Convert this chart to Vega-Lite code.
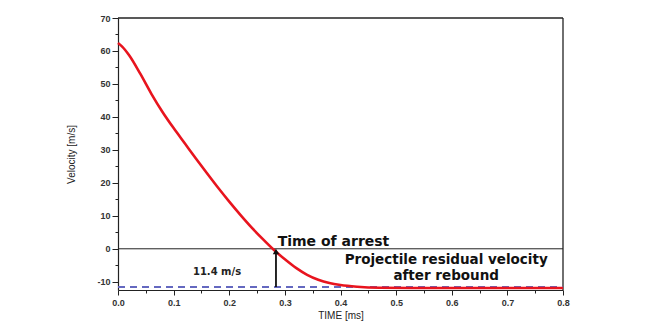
{
  "$schema": "https://vega.github.io/schema/vega-lite/v6.json",
  "width": 445,
  "height": 272,
  "autosize": {"type": "none"},
  "padding": {"left": 118, "top": 18, "right": 94, "bottom": 35},
  "background": "white",
  "config": {
    "font": "Liberation Sans",
    "view": {"stroke": null},
    "axis": {"grid": false, "domainColor": "#222", "tickColor": "#222", "labelColor": "#333", "labelFontSize": 9, "labelFontWeight": "bold", "titleFontSize": 10, "titleFontWeight": "normal", "titleColor": "#222", "domainWidth": 1.2, "labelOverlap": false, "labelBound": false, "labelFlush": false}
  },
  "datasets": {
    "curve": [
      {"t": 0, "v": 62.4}, {"t": 0.007, "v": 61.4}, {"t": 0.02, "v": 58.7}, {"t": 0.04, "v": 53.1},
      {"t": 0.06, "v": 47.0}, {"t": 0.08, "v": 41.5}, {"t": 0.1, "v": 36.6}, {"t": 0.12, "v": 32.0},
      {"t": 0.14, "v": 27.4}, {"t": 0.16, "v": 22.9}, {"t": 0.18, "v": 18.5}, {"t": 0.2, "v": 14.3},
      {"t": 0.22, "v": 10.3}, {"t": 0.24, "v": 6.5}, {"t": 0.26, "v": 3.0}, {"t": 0.28, "v": -0.3},
      {"t": 0.3, "v": -3.2}, {"t": 0.32, "v": -5.8}, {"t": 0.34, "v": -7.9}, {"t": 0.36, "v": -9.4},
      {"t": 0.38, "v": -10.4}, {"t": 0.4, "v": -11.0}, {"t": 0.43, "v": -11.5}, {"t": 0.47, "v": -11.8},
      {"t": 0.55, "v": -11.9}, {"t": 0.65, "v": -11.9}, {"t": 0.8, "v": -11.9}
    ],
    "residual": [{"t": 0, "v": -11.6}, {"t": 0.8, "v": -11.6}],
    "zero": [{"v": 0}],
    "arrow": [{"t": 0.284, "v0": -11.6, "v1": -0.8}],
    "arrest": [{"t": 0.287, "v": 0.9, "text": "Time of arrest"}],
    "labels": [
      {"t": 0.59, "v": -3.5, "text": "Projectile residual velocity"},
      {"t": 0.59, "v": -8.4, "text": "after rebound"}
    ],
    "small": [{"t": 0.178, "v": -7.0, "text": "11.4 m/s"}]
  },
  "layer": [
    {
      "data": {"name": "zero"},
      "mark": {"type": "rule", "color": "#222", "strokeWidth": 1},
      "encoding": {
        "y": {"field": "v", "type": "quantitative", "scale": {"domain": [-12.5, 70], "nice": false, "zero": false},
              "axis": {"title": "Velocity [m/s]", "values": [-10, -5, 0, 5, 10, 15, 20, 25, 30, 35, 40, 45, 50, 55, 60, 65, 70],
                       "tickCount": 40,
                       "labelOverlap": false,
                       "labelExpr": "datum.value % 10 == 0 ? '' + datum.value : ''",
                       "tickSize": {"condition": {"test": "datum.value % 10 == 0", "value": 6}, "value": 3},
                       "labelPadding": 2, "titlePadding": 20}}
      }
    },
    {
      "data": {"name": "zero"},
      "mark": {"type": "rule", "color": "#222", "strokeWidth": 1.3},
      "encoding": {"y": {"datum": 70}}
    },
    {
      "data": {"name": "zero"},
      "mark": {"type": "rule", "color": "#222", "strokeWidth": 1.3},
      "encoding": {"x": {"datum": 0.8}}
    },
    {
      "data": {"name": "residual"},
      "mark": {"type": "line", "color": "#6468c0", "strokeWidth": 2, "strokeDash": [7, 5]},
      "encoding": {
        "x": {"field": "t", "type": "quantitative", "scale": {"domain": [0, 0.8], "nice": false},
              "axis": {"title": "TIME [ms]", "values": [0, 0.05, 0.1, 0.15, 0.2, 0.25, 0.3, 0.35, 0.4, 0.45, 0.5, 0.55, 0.6, 0.65, 0.7, 0.75, 0.8],
                       "tickCount": 40,
                       "labelOverlap": false,
                       "labelExpr": "abs(datum.value*10 - round(datum.value*10)) < 0.01 ? format(datum.value, '.1f') : ''",
                       "tickSize": {"condition": {"test": "abs(datum.value*10 - round(datum.value*10)) < 0.01", "value": 5}, "value": 3},
                       "labelPadding": 3, "titlePadding": 3}},
        "y": {"field": "v", "type": "quantitative"}
      }
    },
    {
      "data": {"name": "curve"},
      "mark": {"type": "line", "color": "#e8141e", "strokeWidth": 2.6, "interpolate": "monotone"},
      "encoding": {
        "x": {"field": "t", "type": "quantitative"},
        "y": {"field": "v", "type": "quantitative"}
      }
    },
    {
      "data": {"name": "arrow"},
      "mark": {"type": "rule", "color": "#111", "strokeWidth": 1.8},
      "encoding": {
        "x": {"field": "t", "type": "quantitative"},
        "y": {"field": "v0", "type": "quantitative"},
        "y2": {"field": "v1"}
      }
    },
    {
      "data": {"name": "arrow"},
      "mark": {"type": "point", "shape": "triangle-up", "filled": true, "color": "#111", "size": 40, "opacity": 1},
      "encoding": {
        "x": {"field": "t", "type": "quantitative"},
        "y": {"field": "v1", "type": "quantitative"}
      }
    },
    {
      "data": {"name": "arrest"},
      "mark": {"type": "text", "font": "DejaVu Sans", "align": "left", "baseline": "alphabetic", "fontSize": 14, "fontWeight": "bold", "color": "#111"},
      "encoding": {
        "x": {"field": "t", "type": "quantitative"},
        "y": {"field": "v", "type": "quantitative"},
        "text": {"field": "text"}
      }
    },
    {
      "data": {"name": "labels"},
      "mark": {"type": "text", "font": "DejaVu Sans", "align": "center", "baseline": "middle", "fontSize": 13.5, "fontWeight": "bold", "color": "#111"},
      "encoding": {
        "x": {"field": "t", "type": "quantitative"},
        "y": {"field": "v", "type": "quantitative"},
        "text": {"field": "text"}
      }
    },
    {
      "data": {"name": "small"},
      "mark": {"type": "text", "font": "DejaVu Sans", "align": "center", "baseline": "middle", "fontSize": 10, "fontWeight": "bold", "color": "#222"},
      "encoding": {
        "x": {"field": "t", "type": "quantitative"},
        "y": {"field": "v", "type": "quantitative"},
        "text": {"field": "text"}
      }
    }
  ]
}
